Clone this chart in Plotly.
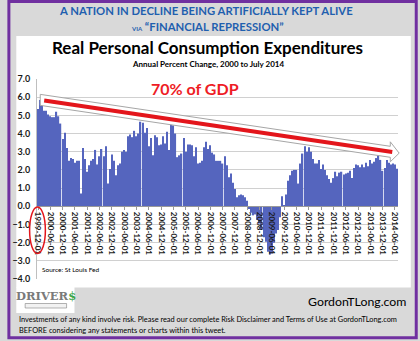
import plotly.graph_objects as go
import pandas as pd

# ---------------- data ----------------
months = pd.date_range("1999-12-01", "2014-07-01", freq="MS").strftime("%Y-%m-%d").tolist()

pce_yoy = [
    5.35, 5.85, 5.55, 5.25, 5.25, 5.05, 4.95, 4.90, 4.90, 5.20, 4.95, 4.55,   # 1999-12 .. 2000-11
    3.70, 4.05, 3.20, 2.50, 2.65, 2.60, 2.40, 2.50, 2.50, 0.70, 3.20, 2.60,   # 2000-12 .. 2001-11
    1.90, 2.25, 2.50, 2.60, 3.10, 2.30, 2.75, 3.15, 2.75, 3.30, 1.25, 2.05,   # 2001-12 .. 2002-11
    2.85, 2.50, 1.70, 2.25, 2.35, 3.00, 3.10, 3.00, 3.85, 3.95, 3.80, 4.15,   # 2002-12 .. 2003-11
    3.85, 4.00, 4.65, 4.60, 4.05, 4.30, 3.30, 3.75, 2.80, 3.90, 3.80, 3.35,   # 2003-12 .. 2004-11
    3.40, 3.85, 3.45, 4.10, 3.10, 4.50, 4.45, 4.00, 2.70, 2.80, 2.90, 3.75,   # 2004-12 .. 2005-11
    3.00, 3.40, 3.40, 3.35, 2.75, 3.25, 2.35, 2.40, 2.50, 3.25, 3.55, 3.15,   # 2005-12 .. 2006-11
    3.35, 2.95, 2.85, 2.50, 2.50, 2.50, 2.35, 2.75, 2.25, 1.60, 1.80, 1.30,   # 2006-12 .. 2007-11
    0.95, 0.50, 0.60, 0.65, 0.60, 0.50, 0.30, -0.15, -0.35, -0.50, -0.45, -0.75,  # 2007-12 .. 2008-11
    -0.95, -1.30, -1.70, -1.95, -2.50, -2.65, -2.60, -2.00, -1.50, -1.30, -0.60, 0.55,  # 2008-12 .. 2009-11
    0.05, 0.65, 1.40, 1.70, 1.95, 2.00, 2.00, 1.25, 2.35, 2.90, 3.30, 3.00,   # 2009-12 .. 2010-11
    3.25, 3.00, 2.60, 2.35, 2.35, 2.55, 2.05, 2.30, 2.00, 1.70, 1.50, 1.30,   # 2010-12 .. 2011-11
    1.55, 1.90, 1.65, 1.85, 1.90, 1.75, 1.80, 1.85, 1.95, 1.55, 2.10, 2.30,   # 2011-12 .. 2012-11
    2.25, 2.15, 2.30, 2.15, 2.40, 2.20, 2.55, 2.35, 2.45, 2.65, 2.85, 2.55,   # 2012-12 .. 2013-11
    1.95, 2.10, 2.55, 2.40, 2.30, 2.35, 2.30, 2.07,                           # 2013-12 .. 2014-07
]

tick_months = months[::6]
y_ticks = [7, 6, 5, 4, 3, 2, 1, 0, -1, -2, -3, -4]
y_range = [-4, 7]

# trend line (month index, percent)
trend_idx = [3.0, 172.7]
trend_val = [5.82, 2.98]

# ---------------- layout helpers ----------------
W, H = 420, 341
L, R, T, B = 32, 22, 79, 62
PW, PH = W - L - R, H - T - B


def fx(px):
    return (px - L) / PW


def fy(py):
    return (H - B - py) / PH


def idx_to_px(i):
    return L + PW * (i + 0.5) / len(months)


def val_to_py(v):
    return T + PH * (y_range[1] - v) / (y_range[1] - y_range[0])


fig = go.Figure()
fig.add_trace(go.Bar(
    x=months, y=pce_yoy,
    marker=dict(color="#5565BE", line=dict(width=0)),
    hoverinfo="x+y",
))

FONT = "Lato, 'Open Sans', sans-serif"

shapes = []
# purple border
shapes.append(dict(type="rect", xref="paper", yref="paper",
                   x0=fx(3.5), x1=fx(416.5), y0=fy(1.5), y1=fy(337.8),
                   line=dict(color="#7030A0", width=3), layer="below"))
# white chart box
shapes.append(dict(type="rect", xref="paper", yref="paper",
                   x0=fx(11), x1=fx(411), y0=fy(36), y1=fy(287.5),
                   fillcolor="white", line=dict(width=0), layer="below"))
# logo box
shapes.append(dict(type="rect", xref="paper", yref="paper",
                   x0=fx(11), x1=fx(70), y0=fy(287), y1=fy(313),
                   fillcolor="white", line=dict(width=0), layer="below"))
shapes.append(dict(type="rect", xref="paper", yref="paper",
                   x0=fx(20), x1=fx(62), y0=fy(303.5), y1=fy(308),
                   fillcolor="#F2F2F2", line=dict(color="#808080", width=0.6), layer="below"))

# arrow outline around trend
x0p, x1p = idx_to_px(trend_idx[0]), idx_to_px(trend_idx[1])
y0p, y1p = val_to_py(trend_val[0]), val_to_py(trend_val[1])
slope = (y1p - y0p) / (x1p - x0p)


def cy(px):
    return y0p + slope * (px - x0p)


h = 5.5
hx = x1p - 2
pts = [(x0p - 4, cy(x0p - 4) - h), (hx, cy(hx) - h), (hx, cy(hx) - 10),
       (x1p + 7, cy(x1p + 7)), (hx, cy(hx) + 10), (hx, cy(hx) + h), (x0p - 4, cy(x0p - 4) + h)]
path = "M " + " L ".join(f"{fx(a):.5f},{fy(b):.5f}" for a, b in pts) + " Z"
shapes.append(dict(type="path", xref="paper", yref="paper", path=path,
                   fillcolor="white", line=dict(color="#A6A6A6", width=1), layer="above"))
shapes.append(dict(type="line", xref="paper", yref="paper",
                   x0=fx(x0p), y0=fy(y0p), x1=fx(x1p), y1=fy(y1p),
                   line=dict(color="#E3151B", width=4), layer="above"))
# red ellipse around first label
shapes.append(dict(type="circle", xref="paper", yref="paper",
                   x0=fx(24.5), x1=fx(40.5), y0=fy(207), y1=fy(253.5),
                   line=dict(color="#E3151B", width=1.5), layer="above"))

ann = []


def A(text, x, y, size, color="black", xanchor="center", weight="normal", family=FONT):
    ann.append(dict(text=text, x=fx(x), y=fy(y), xref="paper", yref="paper",
                    xanchor=xanchor, yanchor="middle", showarrow=False,
                    font=dict(size=size, color=color, family=family, weight=weight)))


A("A NATION IN DECLINE BEING ARTIFICIALLY KEPT ALIVE", 203, 11, 11.3, "#1F5FAF", weight="bold")
A("<span style='font-size:6px'>VIA</span> “FINANCIAL REPRESSION”", 205, 26.5, 11.3, "#1F5FAF", weight="bold")
A("Real Personal Consumption Expenditures", 205, 48, 17, weight="bold")
A("Annual Percent Change, 2000 to July 2014", 205, 63.5, 8, weight="bold")
A("70% of GDP", 192.5, 88.5, 16, "#EE1C25", weight="bold")
A("Source: St Louis Fed", 35, 269.5, 6.5, xanchor="left")
A("GordonTLong.com", 408, 301, 12.3, xanchor="right")
A("Investments of any kind involve risk. Please read our complete Risk Disclaimer and Terms of Use at GordonTLong.com",
  12, 319.5, 7.4, xanchor="left")
A("BEFORE considering any statements or charts within this tweet.", 12, 330, 7.4, xanchor="left")
A("DRIVER<span style='color:#3BA54A'>$</span>", 41, 295.5, 11.5, "#7A7A7A", weight="bold",
  family="'DejaVu Serif', 'Liberation Serif', serif")

fig.update_layout(
    width=W, height=H,
    margin=dict(l=L, r=R, t=T, b=B, pad=0),
    paper_bgcolor="#D9D9D9",
    plot_bgcolor="white",
    showlegend=False,
    bargap=0.38,
    shapes=shapes,
    annotations=ann,
    xaxis=dict(
        type="category", range=[-0.5, len(months) - 0.5],
        anchor="free", position=(0 - y_range[0]) / (y_range[1] - y_range[0]),
        tickmode="array", tickvals=tick_months, ticktext=tick_months,
        tickangle=90, ticks="outside", ticklen=3, tickcolor="#999999",
        tickfont=dict(size=8, family=FONT, color="#1A1A1A", weight="bold"),
        showline=True, linecolor="#999999", linewidth=1,
        showgrid=False, zeroline=False,
    ),
    yaxis=dict(
        range=y_range, tickmode="array", tickvals=y_ticks,
        tickformat=".1f", ticks="", showline=True, linecolor="#BFBFBF", linewidth=1,
        gridcolor="#D0D0D0", gridwidth=1, zeroline=False,
        tickfont=dict(size=9, family=FONT, color="#1A1A1A", weight="bold"),
        ticklabelstandoff=4,
    ),
)

fig.write_html("out.html")
